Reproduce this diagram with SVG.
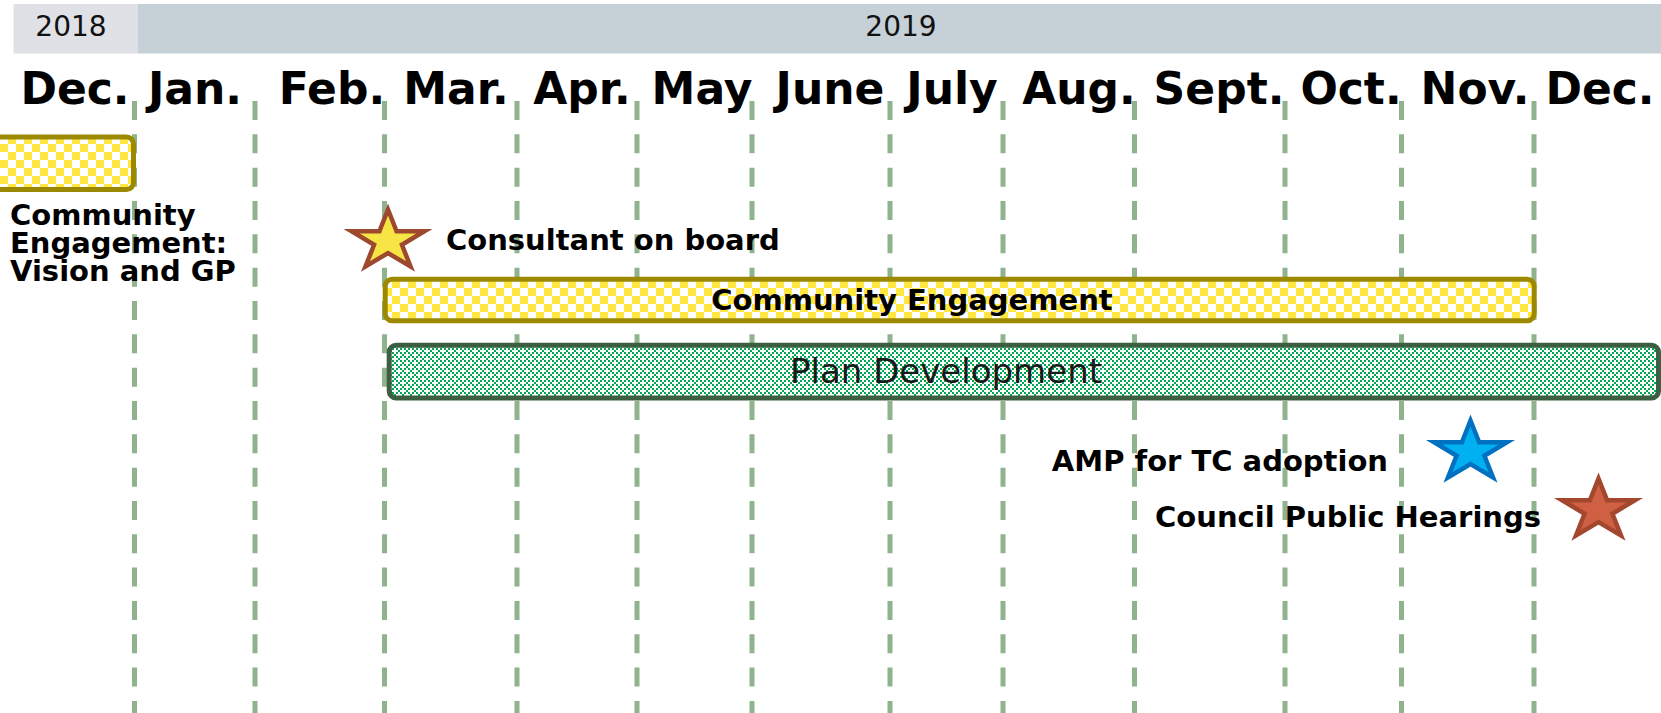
<svg xmlns="http://www.w3.org/2000/svg" xmlns:xlink="http://www.w3.org/1999/xlink" width="1661" height="713" viewBox="0 0 1661 713">
<style>
.yr{font-family:"DejaVu Sans","Verdana",sans-serif;font-size:28px;fill:#111;text-anchor:middle}
.mo{font-family:"DejaVu Sans","Verdana",sans-serif;font-size:44px;font-weight:bold;fill:#000;text-anchor:middle}
.lb{font-family:"DejaVu Sans","Verdana",sans-serif;font-size:29px;font-weight:bold;fill:#000}
.grid line{stroke:#8fb38c;stroke-width:5;stroke-dasharray:19 14.33}
.ybar{fill:url(#yck);stroke:#9c8900;stroke-width:5}
.gbar{fill:url(#gck);stroke:#3d5f41;stroke-width:5}
</style>
<defs>
<pattern id="yck" patternUnits="userSpaceOnUse" width="16" height="16">
<rect width="16" height="16" fill="#ffffff"/>
<rect width="8" height="8" fill="#ffe640"/>
<rect x="8" y="8" width="8" height="8" fill="#ffe640"/>
</pattern>
<pattern id="gck" patternUnits="userSpaceOnUse" width="8" height="8">
<rect width="8" height="8" fill="#ffffff"/>
<g fill="#00a651">
<rect x="0" y="0" width="2" height="2"/>
<rect x="4" y="0" width="2" height="2"/>
<rect x="2" y="2" width="2" height="2"/>
<rect x="0" y="4" width="2" height="2"/>
<rect x="4" y="4" width="2" height="2"/>
<rect x="6" y="6" width="2" height="2"/>
</g>
</pattern>
<polygon id="star" stroke-width="4.5" stroke-linejoin="miter" stroke-miterlimit="10" points="0,-31.5 8.6,-9.73 36.4,-9.73 13.92,3.72 22.52,25.48 0,12.03 -22.52,25.48 -13.92,3.72 -36.4,-9.73 -8.6,-9.73"/>
</defs>
<rect width="1661" height="713" fill="#ffffff"/>
<g id="yearbar">
<rect x="13.5" y="4" width="124.5" height="49.5" fill="#e0e1e6"/>
<rect x="138" y="4" width="1523" height="49.5" fill="#c6d1d7"/>
<text class="yr" x="71" y="36">2018</text>
<text class="yr" x="901" y="36">2019</text>
</g>
<g id="months">
<text class="mo" x="75" y="104">Dec.</text>
<text class="mo" x="195" y="104">Jan.</text>
<text class="mo" x="332" y="104">Feb.</text>
<text class="mo" x="456" y="104">Mar.</text>
<text class="mo" x="582" y="104">Apr.</text>
<text class="mo" x="702" y="104">May</text>
<text class="mo" x="830" y="104">June</text>
<text class="mo" x="952" y="104">July</text>
<text class="mo" x="1079" y="104">Aug.</text>
<text class="mo" x="1219" y="104">Sept.</text>
<text class="mo" x="1351" y="104">Oct.</text>
<text class="mo" x="1475" y="104">Nov.</text>
<text class="mo" x="1600" y="104">Dec.</text>
</g>
<g id="connectors" class="grid">
<line x1="134.5" y1="101" x2="134.5" y2="713"/>
<line x1="255" y1="101" x2="255" y2="713"/>
<line x1="384.5" y1="101" x2="384.5" y2="713"/>
<line x1="517" y1="101" x2="517" y2="713"/>
<line x1="637" y1="101" x2="637" y2="713"/>
<line x1="752" y1="101" x2="752" y2="713"/>
<line x1="890" y1="101" x2="890" y2="713"/>
<line x1="1003" y1="101" x2="1003" y2="713"/>
<line x1="1134.5" y1="101" x2="1134.5" y2="713"/>
<line x1="1285" y1="101" x2="1285" y2="713"/>
<line x1="1401.5" y1="101" x2="1401.5" y2="713"/>
<line x1="1534" y1="101" x2="1534" y2="713"/>
</g>
<g id="ce-vision">
<rect class="ybar" x="-12" y="137" width="145.5" height="52.5" rx="7"/>
<text class="lb"><tspan x="10" y="225">Community</tspan><tspan x="10" y="253">Engagement:</tspan><tspan x="10" y="281">Vision and GP</tspan></text>
</g>
<g id="consultant">
<use xlink:href="#star" href="#star" x="388" y="241" fill="#f7e545" stroke="#9e4830"/>
<text class="lb" x="446" y="250">Consultant on board</text>
</g>
<g id="community-engagement">
<rect class="ybar" x="385.2" y="279.2" width="1149" height="41.6" rx="7"/>
<text class="lb" x="912" y="309.5" text-anchor="middle">Community Engagement</text>
</g>
<g id="plan-development">
<rect class="gbar" x="389.2" y="345.2" width="1269.3" height="52.8" rx="7"/>
<text x="946" y="383" text-anchor="middle" font-family="DejaVu Sans, Verdana, sans-serif" font-size="34" fill="#1a1a1a">Plan Development</text>
</g>
<g id="amp">
<use xlink:href="#star" href="#star" x="1470.5" y="452" fill="#00b0f0" stroke="#0070c0"/>
<text class="lb" x="1388" y="471" text-anchor="end">AMP for TC adoption</text>
</g>
<g id="council">
<use xlink:href="#star" href="#star" x="1598.5" y="510" fill="#cf6043" stroke="#a3472f"/>
<text class="lb" x="1541" y="527" text-anchor="end">Council Public Hearings</text>
</g>
</svg>
